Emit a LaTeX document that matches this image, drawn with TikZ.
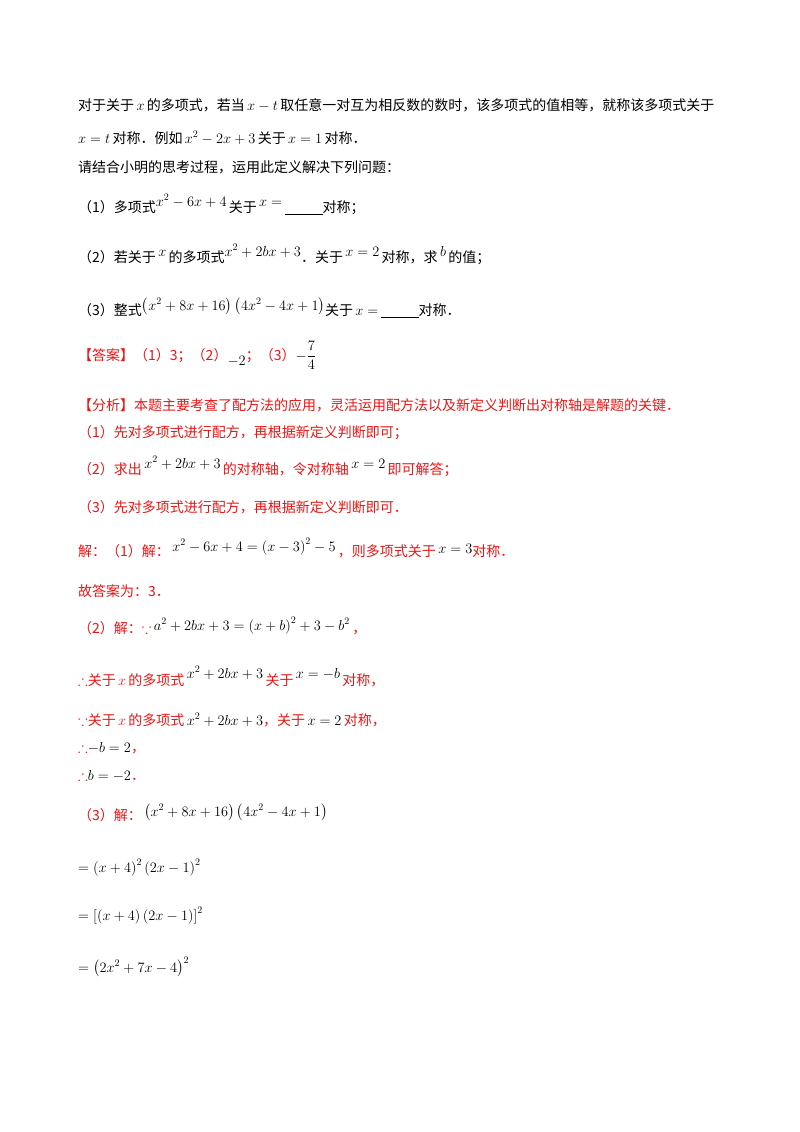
\documentclass[tikz,border=0pt]{standalone}
\usepackage{amsmath,amssymb}
\usepackage{fontspec}
\newfontfamily\cjk{Noto Sans CJK SC}
\definecolor{rd}{RGB}{235,20,20}
\newcommand{\bec}{{\Large$\because$}}
\newcommand{\thf}{{\Large$\therefore$}}
\begin{document}
\begin{tikzpicture}[x=1pt,y=-1pt,
 ln/.style={anchor=base west,inner sep=0pt,font=\fontsize{14}{16}\cjk},
 rl/.style={ln,text=rd}]
\useasboundingbox (0,0) rectangle (800,1132);
\node[ln] (l1) at (78,110) {对于关于\,$x$\,的多项式，若当\,$x-t$\,取任意一对互为相反数的数时，该多项式的值相等，就称该多项式关于};
\node[ln] (l2) at (78,143) {$x=t$\,对称．例如\,$x^2-2x+3$\,关于\,$x=1$\,对称．};
\node[ln] (l3) at (78,172) {请结合小明的思考过程，运用此定义解决下列问题：};
\node[ln] (q1) at (78,212) {（1）多项式\raisebox{6pt}{$x^2-6x+4$}\,关于\raisebox{6pt}{\,$x=$\,}\underline{\hspace{38pt}}对称；};
\node[ln] (q2) at (78,262) {（2）若关于\raisebox{6pt}{\,$x$\,}的多项式\raisebox{6pt}{$x^2+2bx+3$}．关于\raisebox{6pt}{\,$x=2$\,}对称，求\raisebox{6pt}{\,$b$\,}的值；};
\node[ln] (q3) at (78,315) {（3）整式\raisebox{5pt}{$\left(x^2+8x+16\right)\left(4x^2-4x+1\right)$}关于\,$x=$\,\underline{\hspace{38pt}}对称．};
\node[rl] (a) at (78,360) {【答案】（1）3；（2）\raisebox{-5pt}{\color{black}$-2$}；（3）\color{black}$-\dfrac{7}{4}$};
\node[rl] (f) at (78,410) {【分析】本题主要考查了配方法的应用，灵活运用配方法以及新定义判断出对称轴是解题的关键．};
\node[rl] (f1) at (78,437) {（1）先对多项式进行配方，再根据新定义判断即可；};
\node[rl] (f2) at (78,474) {（2）求出\raisebox{6pt}{\color{black}\,$x^2+2bx+3$\,}的对称轴，令对称轴\raisebox{6pt}{\color{black}\,$x=2$\,}即可解答；};
\node[rl] (f3) at (78,512) {（3）先对多项式进行配方，再根据新定义判断即可．};
\node[rl] (s1) at (78,556) {解：（1）解：\raisebox{5pt}{\color{black}\,$x^2-6x+4=\left(x-3\right)^2-5$\,}，则多项式关于\raisebox{3pt}{\color{black}\,$x=3$}对称．};
\node[rl] (s2) at (78,596) {故答案为：3．};
\node[rl] (s3) at (78,633) {（2）解：\bec\raisebox{3pt}{\color{black}\,$a^2+2bx+3=\left(x+b\right)^2+3-b^2$\,}，};
\node[rl] (s4) at (78,685) {\thf 关于\,$x$\,的多项式\raisebox{7pt}{\color{black}\,$x^2+2bx+3$\,}关于\raisebox{7pt}{\color{black}\,$x=-b$\,}对称，};
\node[rl] (s5) at (78,725) {\bec 关于\,$x$\,的多项式{\color{black}\,$x^2+2bx+3$}，关于{\color{black}\,$x=2$\,}对称，};
\node[rl] (s6) at (78,752) {\thf{\color{black}$-b=2$}，};
\node[rl] (s7) at (78,780) {\thf{\color{black}$b=-2$}．};
\node[rl] (s8) at (78,820) {（3）解：\raisebox{4pt}{\color{black}\,$\left(x^2+8x+16\right)\left(4x^2-4x+1\right)$}};
\node[ln] (e1) at (78,872) {$=\left(x+4\right)^2\left(2x-1\right)^2$};
\node[ln] (e2) at (78,920) {$=\left[\left(x+4\right)\left(2x-1\right)\right]^2$};
\node[ln] (e3) at (78,972) {$=\left(2x^2+7x-4\right)^2$};
\end{tikzpicture}
\end{document}
